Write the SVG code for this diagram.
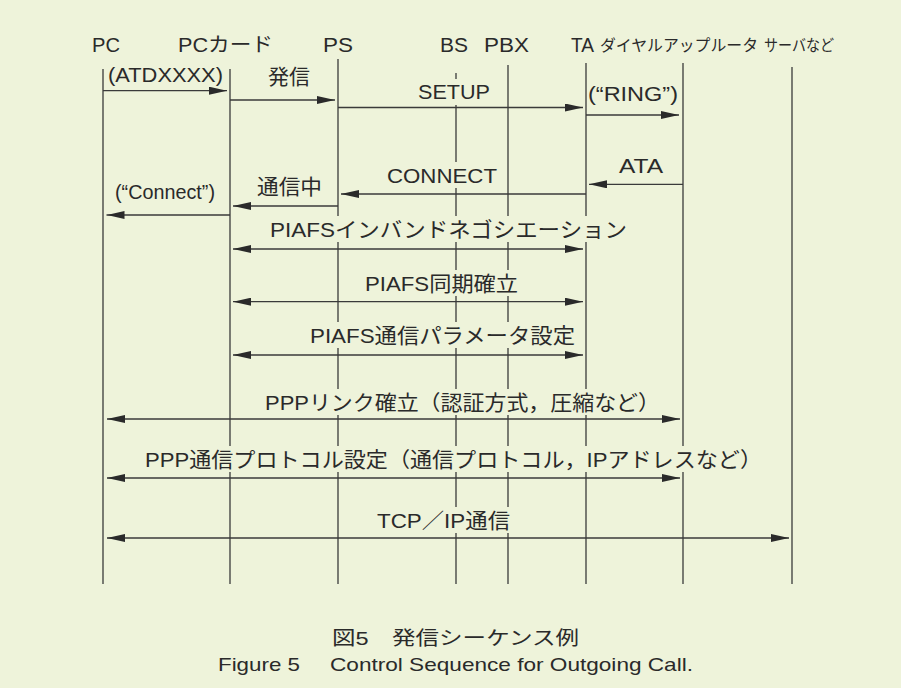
<svg xmlns="http://www.w3.org/2000/svg" width="901" height="688" viewBox="0 0 901 688">
<defs>
<style>
.bg{fill:#eef3da}
.life{stroke:#3a3a3a;stroke-width:1.3;fill:none}
.msg{stroke:#3a3a3a;stroke-width:1.3;fill:none}
.one{marker-end:url(#ah)}
.two{marker-start:url(#ah);marker-end:url(#ah)}
text{font-family:"Liberation Sans","Noto Sans CJK JP",sans-serif;fill:#2a2a2a}
.h{font-size:20px}
.hs{font-size:16px}
.l{font-size:21px}
.cap{font-size:19px}
.mask{fill:#eef3da}
</style>
<marker id="ah" viewBox="0 0 18 8" markerWidth="18" markerHeight="8" refX="18" refY="4" orient="auto-start-reverse" markerUnits="userSpaceOnUse"><path d="M0,0 L18,4 L0,8 z" fill="#2a2a2a"/></marker>
</defs>
<rect class="bg" x="0" y="0" width="901" height="688"/>

<g id="node-pc"><text class="h" x="92" y="52" textLength="28" lengthAdjust="spacingAndGlyphs">PC</text><line class="life" x1="103" y1="69" x2="103" y2="584"/></g>
<g id="node-pccard"><text class="h" x="178" y="52" textLength="95" lengthAdjust="spacingAndGlyphs">PCカード</text><line class="life" x1="230" y1="69" x2="230" y2="584"/></g>
<g id="node-ps"><text class="h" x="323" y="52" textLength="30" lengthAdjust="spacingAndGlyphs">PS</text><line class="life" x1="338" y1="59" x2="338" y2="584"/></g>
<g id="node-bs"><text class="h" x="440" y="52" textLength="28" lengthAdjust="spacingAndGlyphs">BS</text><line class="life" x1="456" y1="73" x2="456" y2="584"/></g>
<g id="node-pbx"><text class="h" x="484" y="52" textLength="45" lengthAdjust="spacingAndGlyphs">PBX</text><line class="life" x1="508" y1="65" x2="508" y2="584"/></g>
<g id="node-ta"><text class="h" x="571" y="52" textLength="23" lengthAdjust="spacingAndGlyphs">TA</text><line class="life" x1="586" y1="63" x2="586" y2="584"/></g>
<g id="node-router"><text class="hs" x="600" y="51" textLength="158" lengthAdjust="spacingAndGlyphs">ダイヤルアップルータ</text><line class="life" x1="683" y1="63" x2="683" y2="584"/></g>
<g id="node-server"><text class="hs" x="764" y="51" textLength="70" lengthAdjust="spacingAndGlyphs">サーバなど</text><line class="life" x1="792" y1="67" x2="792" y2="584"/></g>

<g id="connectors">
<g id="masks">
<rect class="mask" x="415" y="79" width="78" height="26"/>
<rect class="mask" x="384" y="162" width="116" height="26"/>
<rect class="mask" x="267" y="216" width="363" height="26"/>
<rect class="mask" x="362" y="270" width="159" height="26"/>
<rect class="mask" x="307" y="322" width="271" height="26"/>
<rect class="mask" x="262" y="389" width="401" height="26"/>
<rect class="mask" x="142" y="446" width="623" height="26"/>
<rect class="mask" x="374" y="507" width="139" height="26"/>
</g>
<g id="arrows">
<line class="msg one" x1="103" y1="90.7" x2="227" y2="90.7"/>
<line class="msg one" x1="230" y1="100" x2="335" y2="100"/>
<line class="msg one" x1="338" y1="107.5" x2="583" y2="107.5"/>
<line class="msg one" x1="586" y1="115" x2="679" y2="115"/>
<line class="msg one" x1="683" y1="184.3" x2="589" y2="184.3"/>
<line class="msg one" x1="586" y1="194" x2="341" y2="194"/>
<line class="msg one" x1="338" y1="206" x2="233" y2="206"/>
<line class="msg one" x1="230" y1="215" x2="106.5" y2="215"/>
<line class="msg two" x1="233" y1="249" x2="583" y2="249"/>
<line class="msg two" x1="233" y1="301.7" x2="583" y2="301.7"/>
<line class="msg two" x1="233" y1="355" x2="583" y2="355"/>
<line class="msg two" x1="107" y1="419" x2="680" y2="419"/>
<line class="msg two" x1="107" y1="478" x2="680" y2="478"/>
<line class="msg two" x1="107" y1="538" x2="789" y2="538"/>
</g>
<g id="labels">
<text class="l" x="108" y="81.7" textLength="115" lengthAdjust="spacingAndGlyphs">(ATDXXXX)</text>
<text class="l" x="268" y="84" textLength="42" lengthAdjust="spacingAndGlyphs">発信</text>
<text class="l" x="418" y="99.3" textLength="72" lengthAdjust="spacingAndGlyphs">SETUP</text>
<text class="l" x="588" y="101" textLength="90" lengthAdjust="spacingAndGlyphs">(“RING”)</text>
<text class="l" x="619" y="172.7" textLength="44" lengthAdjust="spacingAndGlyphs">ATA</text>
<text class="l" x="387" y="183.3" textLength="110" lengthAdjust="spacingAndGlyphs">CONNECT</text>
<text class="l" x="257" y="194" textLength="65" lengthAdjust="spacingAndGlyphs">通信中</text>
<text class="l" x="115" y="199" textLength="100" lengthAdjust="spacingAndGlyphs">(“Connect”)</text>
<text class="l" x="270" y="237.3" textLength="357" lengthAdjust="spacingAndGlyphs">PIAFSインバンドネゴシエーション</text>
<text class="l" x="365" y="290.7" textLength="153" lengthAdjust="spacingAndGlyphs">PIAFS同期確立</text>
<text class="l" x="310" y="343.3" textLength="265" lengthAdjust="spacingAndGlyphs">PIAFS通信パラメータ設定</text>
<text class="l" x="265" y="410" textLength="395" lengthAdjust="spacingAndGlyphs">PPPリンク確立（認証方式，圧縮など）</text>
<text class="l" x="145" y="467" textLength="617" lengthAdjust="spacingAndGlyphs">PPP通信プロトコル設定（通信プロトコル，IPアドレスなど）</text>
<text class="l" x="377" y="527.7" textLength="133" lengthAdjust="spacingAndGlyphs">TCP／IP通信</text>
</g>
</g>

<g id="caption">
<text class="cap" x="332" y="645" textLength="247" lengthAdjust="spacingAndGlyphs">図5　発信シーケンス例</text>
<text class="cap" x="218" y="671" textLength="82" lengthAdjust="spacingAndGlyphs">Figure 5</text>
<text class="cap" x="330" y="671" textLength="363" lengthAdjust="spacingAndGlyphs">Control Sequence for Outgoing Call.</text>
</g>
</svg>
